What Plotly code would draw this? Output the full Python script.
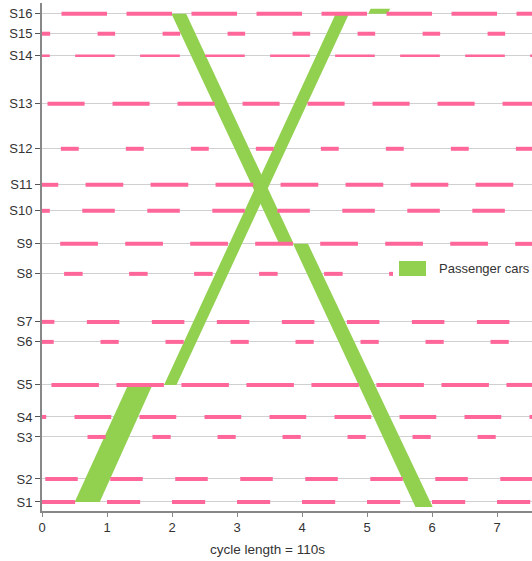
import plotly.graph_objects as go

# ---------------- data ----------------
CYCLE_S = 110
stations = ["S1", "S2", "S3", "S4", "S5", "S6", "S7", "S8",
            "S9", "S10", "S11", "S12", "S13", "S14", "S15", "S16"]
station_pos = [0, 230, 650, 850, 1170, 1600, 1800, 2280,
               2580, 2910, 3170, 3530, 3980, 4460, 4680, 4880]
# red phase: start (fraction of cycle) and duration (fraction of cycle)
red_start = [0.00, 0.05, 0.70, 0.50, 0.145, 0.90, 0.69, 0.34,
             0.28, 0.62, 0.67, 0.29, 0.085, 0.51, 0.855, 0.30]
red_dur = [0.51, 0.50, 0.28, 0.565, 0.73, 0.28, 0.50, 0.285,
           0.58, 0.50, 0.58, 0.275, 0.57, 0.61, 0.27, 0.70]
red_width = [4, 4, 4, 4, 4, 4, 4, 4, 4, 4, 4, 4, 4, 2.5, 4, 4]
n_cycles_shown = 8

# passenger-car green band pieces (position from/to, time of left/right edge at each end, in cycles)
band_pos_from = [0, 1170, 4880, 4880, 2580]
band_pos_to = [1170, 4880, 4930, 2580, -50]
band_t_from_left = [0.503, 1.877, 5.02, 1.991, 3.862]
band_t_from_right = [0.888, 2.068, 5.32, 2.218, 4.092]
band_t_to_left = [1.323, 4.518, 5.055, 3.649, 5.745]
band_t_to_right = [1.698, 4.723, 5.355, 3.872, 6.01]

x_range = [0, 7.538]
y_range = [-90, 4987]

PINK = "#ff6699"
GREEN = "#92d050"
FONT = "Liberation Sans, Arial, sans-serif"

fig = go.Figure()

# green bands (one polygon per piece so overlaps stay filled)
for pf, pt, fl, fr, tl, tr in zip(band_pos_from, band_pos_to, band_t_from_left,
                                  band_t_from_right, band_t_to_left, band_t_to_right):
    fig.add_trace(go.Scatter(x=[fl, fr, tr, tl, fl], y=[pf, pf, pt, pt, pf],
                             mode="lines", fill="toself", fillcolor=GREEN,
                             line=dict(width=0, color=GREEN), name="Passenger cars",
                             showlegend=False, hoverinfo="skip"))

# red phases
for name, pos, s0, d, w in zip(stations, station_pos, red_start, red_dur, red_width):
    xs, ys = [], []
    for k in range(-1, n_cycles_shown + 1):
        a = max(k + s0, x_range[0])
        b = min(k + s0 + d, x_range[1])
        if b > a:
            xs += [a, b, None]
            ys += [pos, pos, None]
    fig.add_trace(go.Scatter(x=xs, y=ys, mode="lines", line=dict(color=PINK, width=w),
                             showlegend=False, hoverinfo="skip", name=name))

# plot geometry helpers (for legend placement in paper coords)
L, T, B, W, H = 42, 3, 50, 532, 561
pw, ph = W - L, H - T - B
def px(xp):
    return (xp - L) / pw
def py(yp):
    return (H - B - yp) / ph

fig.update_layout(
    width=W, height=H,
    margin=dict(l=L, r=0, t=T, b=B),
    plot_bgcolor="white", paper_bgcolor="white",
    font=dict(family=FONT, size=13, color="#333"),
    showlegend=False,
    xaxis=dict(range=x_range, tickvals=list(range(0, 8)), ticks="outside", ticklen=4,
               tickcolor="#888", showline=True, linecolor="#888", linewidth=1.5,
               showgrid=False, zeroline=False, tickfont=dict(size=13, color="#333")),
    yaxis=dict(range=y_range, tickvals=station_pos, ticktext=stations, ticks="outside",
               ticklen=5, tickcolor="#555", showline=True, linecolor="#888", linewidth=2,
               showgrid=True, gridcolor="#d0d0d0", gridwidth=1, zeroline=False,
               tickfont=dict(size=13, color="#333")),
    shapes=[
        dict(type="rect", xref="paper", yref="paper", x0=px(393), x1=px(540),
             y0=py(290), y1=py(255), fillcolor="white", line=dict(width=0), layer="above"),
        dict(type="rect", xref="paper", yref="paper", x0=px(399), x1=px(426),
             y0=py(276), y1=py(261), fillcolor=GREEN, line=dict(width=0), layer="above"),
    ],
    annotations=[
        dict(text="Passenger cars", xref="paper", yref="paper", x=px(437), y=py(268.5),
             xanchor="left", yanchor="middle", showarrow=False,
             font=dict(size=13, color="#333")),
        dict(text=f"cycle length = {CYCLE_S}s", xref="paper", yref="paper",
             x=px(267.5), y=py(549), xanchor="center", yanchor="middle",
             showarrow=False, font=dict(size=13.5, color="#333")),
    ],
)

fig.write_html("out.html", config={"displayModeBar": False},
               post_script="document.body.style.margin='0';")
